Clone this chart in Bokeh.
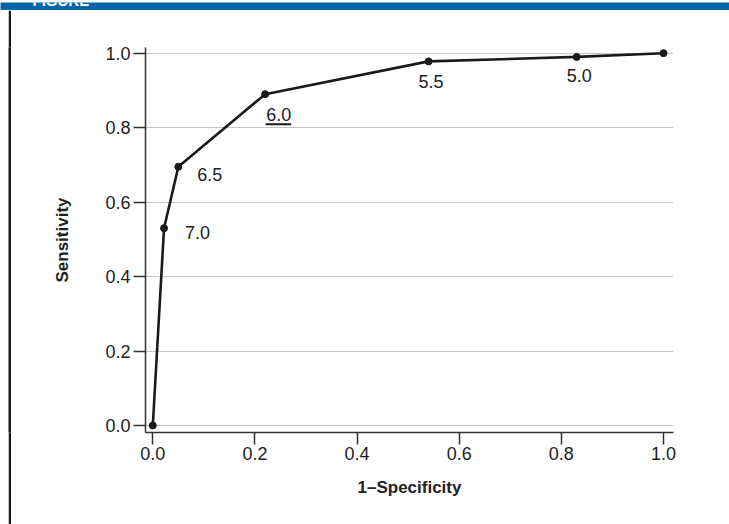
from bokeh.plotting import figure
from bokeh.layouts import column, row
from bokeh.models import Range1d, FixedTicker, ColumnDataSource
from bokeh.embed import file_html
from bokeh.resources import INLINE
from bokeh.core.properties import value

# ---- data ----
fpr = [0.0, 0.022, 0.05, 0.22, 0.54, 0.83, 1.0]
tpr = [0.0, 0.53, 0.695, 0.89, 0.978, 0.99, 1.0]
cutoff_labels = ["", "7.0", "6.5", "6.0", "5.5", "5.0", ""]
tick_values = [0.0, 0.2, 0.4, 0.6, 0.8, 1.0]
tick_labels = ["0.0", "0.2", "0.4", "0.6", "0.8", "1.0"]
header_text = "FIGURE"
x_title = "1\u2013Specificity"
y_title = "Sensitivity"

# ---- style ----
FONT = "Liberation Sans"
BLUE = "#0066a8"
AX = "#333333"
TXT = "#222222"
W, H = 729, 524
HEAD_H = 10
LEFT_PAD, BORDER_W = 8, 3
MAIN_W = W - LEFT_PAD - BORDER_W
MAIN_H = H - HEAD_H
FL, FT = 134, 37
FW, FH = 528, 385
XR = (-0.0143, 1.0196)
YR = (-0.0188, 1.0153)


def blank(width, height, color):
    f = figure(width=width, height=height, output_backend="svg", toolbar_location=None,
               x_axis_location=None, y_axis_location=None, min_border=0,
               background_fill_color=color, border_fill_color=color,
               outline_line_color=None)
    f.grid.visible = False
    return f


# header bar (text cut off at the top as in the reference)
hdr = blank(W, HEAD_H, BLUE)
hdr.x_range = Range1d(0, W)
hdr.y_range = Range1d(0, HEAD_H)
hdr.text(x=[32], y=[HEAD_H + 2], text=[header_text], text_color="white",
         text_font=value(FONT), text_font_style="bold",
         text_font_size="15px", text_baseline="alphabetic", text_align="left")

pad = blank(LEFT_PAD, MAIN_H, "white")
strip = blank(BORDER_W, MAIN_H, "#1a1a1a")

# main plot
p = figure(width=MAIN_W, height=MAIN_H, output_backend="svg", toolbar_location=None,
           x_range=Range1d(*XR), y_range=Range1d(*YR),
           min_border_left=FL, min_border_top=FT,
           min_border_right=MAIN_W - FL - FW, min_border_bottom=MAIN_H - FT - FH,
           outline_line_color=None, background_fill_color="white",
           border_fill_color="white")

p.xgrid.visible = False
p.ygrid.ticker = FixedTicker(ticks=tick_values)
p.ygrid.grid_line_color = "#8a8a8a"
p.ygrid.grid_line_dash = "1 1"
p.ygrid.grid_line_width = 1

for ax in (p.xaxis[0], p.yaxis[0]):
    ax.ticker = FixedTicker(ticks=tick_values)
    ax.major_label_overrides = {v: s for v, s in zip(tick_values, tick_labels)}
    ax.axis_line_color = AX
    ax.axis_line_width = 1.5
    ax.major_tick_line_color = AX
    ax.major_tick_line_width = 1.5
    ax.major_tick_in = 0
    ax.major_tick_out = 12
    ax.minor_tick_line_color = None
    ax.major_label_text_font = FONT
    ax.major_label_text_font_size = "18px"
    ax.major_label_text_color = TXT
    ax.axis_label_text_font = FONT
    ax.axis_label_text_font_style = "bold"
    ax.axis_label_text_font_size = "17px"
    ax.axis_label_text_color = TXT

p.xaxis.axis_label = x_title
p.yaxis.axis_label = y_title
p.xaxis.major_label_standoff = 2
p.yaxis.major_label_standoff = 3
p.xaxis.axis_label_standoff = 15
p.yaxis.axis_label_standoff = 30

src = ColumnDataSource(dict(x=fpr, y=tpr, t=cutoff_labels,
                            dx=[0, 21, 19, 1, -10, -10, 0],
                            dy=[0, 4, 8, 20, 20, 19, 0]))
p.line("x", "y", source=src, line_color="#1a1a1a", line_width=2.6)
p.scatter("x", "y", source=src, size=7, fill_color="#1a1a1a", line_color="#1a1a1a")
p.text("x", "y", text="t", source=src, x_offset="dx", y_offset="dy",
       text_font=value(FONT), text_font_size="18px", text_color=TXT,
       text_align="left", text_baseline="middle")

# underline for the optimal cut-off (index 3)
px_x = FW / (XR[1] - XR[0])
px_y = FH / (YR[1] - YR[0])
i = 3
p.segment(x0=[fpr[i] + 0.5 / px_x], y0=[tpr[i] - 30 / px_y],
          x1=[fpr[i] + 26 / px_x], y1=[tpr[i] - 30 / px_y],
          line_color="#1a1a1a", line_width=2)

layout = column(hdr, row(pad, strip, p, spacing=0), spacing=0)

html = file_html(layout, INLINE, title="ROC")
html = html.replace("</head>", "<style>html,body{margin:0;padding:0;}</style></head>", 1)
open("out.html", "w").write(html)
